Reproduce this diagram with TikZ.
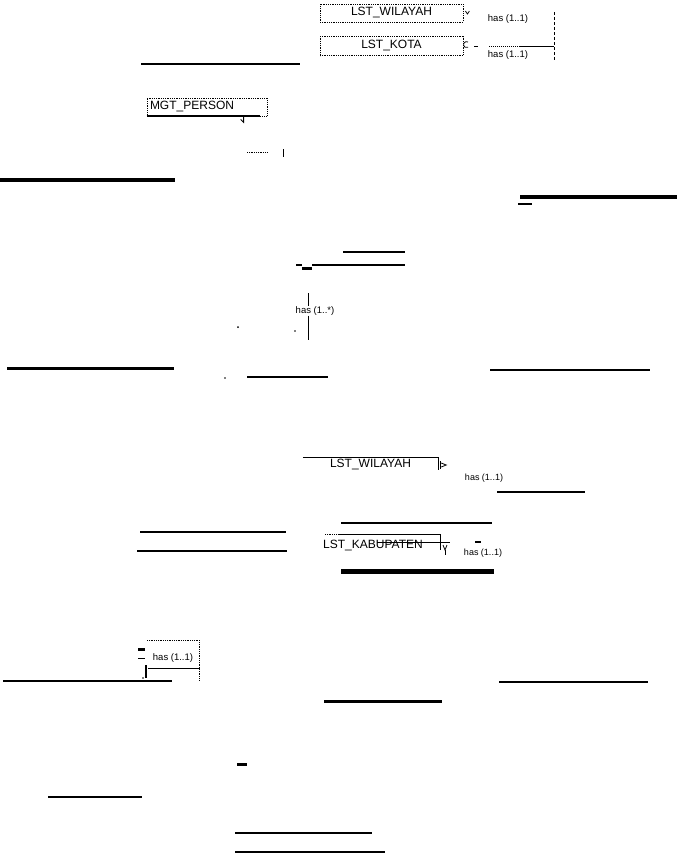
\documentclass[tikz,border=0pt]{standalone}
\usepackage{fontspec}
\setmainfont{Liberation Sans}

\begin{document}
\begin{tikzpicture}[x=1pt,y=-1pt,
    ent/.style={draw,densely dotted,line width=0.8pt,inner sep=0pt,minimum height=18pt,font=\fontsize{12}{12}\selectfont},
    enttext/.style={inner sep=0pt,font=\fontsize{12}{12}\selectfont},
    lbl/.style={inner sep=0pt,font=\fontsize{9.5}{10}\selectfont},
    thinrule/.style={line width=1.2pt}]
    \useasboundingbox (0,0) rectangle (678,854);

    \node[ent,minimum width=143pt] (wilayah) at (391.5,13) {LST\_WILAYAH};
    \node[ent,minimum width=143pt,minimum height=19pt] (kota) at (391.5,46) {LST\_KOTA};
    \node[lbl] (hasA) at (508,19) {has (1..1)};
    \node[lbl] (hasB) at (508,55) {has (1..1)};
    \coordinate (relTop) at (554,12);
    \coordinate (relMid) at (554,46);
    \coordinate (relBot) at (554,60);
    \coordinate (kotaDot) at (520,46);
    \coordinate (kotaEnd) at (488,46);
    \draw[densely dashed,line width=1pt] (relTop) -- (relBot);
    \draw[line width=1pt] (relMid) -- (kotaDot);
    \draw[densely dotted,line width=1pt] (kotaDot) -- (kotaEnd);
    \draw[line width=1pt] (kota.east) ++(11,0) -- ++(4,0);
    \draw[line width=0.8pt] (468,42) arc (-60:-300:3);
    \draw[line width=0.8pt] (wilayah.east) ++(2,-2) -- ++(2,3) -- ++(2,-3);

    \draw[line width=2pt] (141,64) -- (300,64);

    \node[ent,minimum width=120pt,text width=114pt,align=left,inner xsep=3pt] (person) at (207,107) {MGT\_PERSON};
    \draw[line width=2pt] (person.south west) -- ++(113,0);
    \draw[line width=0.8pt] (person.south west) ++(97,0) -- ++(0,6) -- ++(-3,-3);
    \draw[densely dotted,line width=0.8pt] (247,152) -- (267,152);
    \draw[line width=1pt] (283,149) -- (283,157);

    \draw[line width=3.5pt] (0,180) -- (175,180);
    \draw[line width=4pt] (520,197) -- (677,197);
    \draw[thinrule] (518,204) -- (532,204);

    \draw[thinrule] (343,252) -- (405,252);
    \draw[line width=2.5pt] (312,265) -- (405,265);
    \draw[line width=2pt] (296,265) -- (302,265);
    \draw[line width=3pt] (302,268) -- (312,268);
    \node[lbl] (hasC) at (315,311) {has (1..*)};
    \coordinate (midTop) at (308,293);
    \coordinate (midBot) at (308,340);
    \draw[line width=1pt] (midTop) -- (hasC.north -| midTop);
    \draw[line width=1pt] (hasC.south -| midBot) -- (midBot);
    \fill (238,327) circle (1pt);
    \fill (295,331) circle (0.8pt);

    \draw[line width=3pt] (7,368) -- (174,368);
    \draw[thinrule] (490,370) -- (650,370);
    \draw[line width=2pt] (247,377) -- (328,377);
    \fill (225,378) circle (0.8pt);

    \node[enttext,minimum width=135pt,minimum height=12pt] (wilayahB) at (370.5,464) {LST\_WILAYAH};
    \draw[line width=1pt] (wilayahB.north west) -- (wilayahB.north east) -- (wilayahB.south east);
    \draw[line width=0.8pt] (wilayahB.east) ++(2,-3) -- ++(0,8);
    \draw[line width=0.8pt] (wilayahB.east) ++(3,-1) -- ++(5,2) -- ++(-5,2);
    \node[lbl,font=\fontsize{9}{9}\selectfont] (hasD) at (484,478) {has (1..1)};
    \draw[thinrule] (497,492) -- (585,492);

    \draw[thinrule] (341,523) -- (492,523);
    \draw[thinrule] (140,532) -- (286,532);
    \draw[thinrule] (137,551) -- (287,551);

    \node[enttext] (kabupaten) at (373,545) {LST\_KABUPATEN};
    \coordinate (kabNW) at (340,534);
    \coordinate (kabNE) at (440,534);
    \coordinate (kabSE) at (440,550);
    \draw[densely dotted,line width=0.8pt] (325,534) -- (kabNW);
    \draw[line width=1pt] (kabNW) -- (kabNE) -- (kabSE);
    \draw[line width=1pt] (377,542) -- (450,542);
    \draw[line width=0.8pt] (443,545) -- (445,550) -- (447,545);
    \draw[line width=0.8pt] (445,550) -- (445,555);
    \draw[thinrule] (475,542) -- (481,542);
    \node[lbl,font=\fontsize{9}{9}\selectfont] (hasF) at (483,553) {has (1..1)};
    \draw[line width=5pt] (341,571) -- (494,571);

    \node[lbl] (hasE) at (173,658) {has (1..1)};
    \coordinate (relNW) at (147,640);
    \coordinate (relNE) at (199,640);
    \coordinate (relSE) at (199,680);
    \draw[densely dotted,line width=0.8pt] (relNW) -- (relNE) -- (relSE);
    \draw[line width=2pt] (146,665) -- (146,678);
    \draw[line width=1pt] (148,668) -- (200,668);
    \draw[line width=3pt] (138,649) -- (145,649);
    \draw[line width=1pt] (138,658) -- (145,658);
    \fill (143,678) circle (0.8pt);

    \draw[thinrule] (3,681) -- (172,681);
    \draw[thinrule] (499,682) -- (648,682);
    \draw[line width=3pt] (324,701) -- (442,701);
    \draw[line width=3pt] (237,764) -- (247,764);
    \draw[thinrule] (48,797) -- (142,797);
    \draw[thinrule] (235,833) -- (372,833);
    \draw[thinrule] (235,852) -- (385,852);
  \end{tikzpicture}
\end{document}
